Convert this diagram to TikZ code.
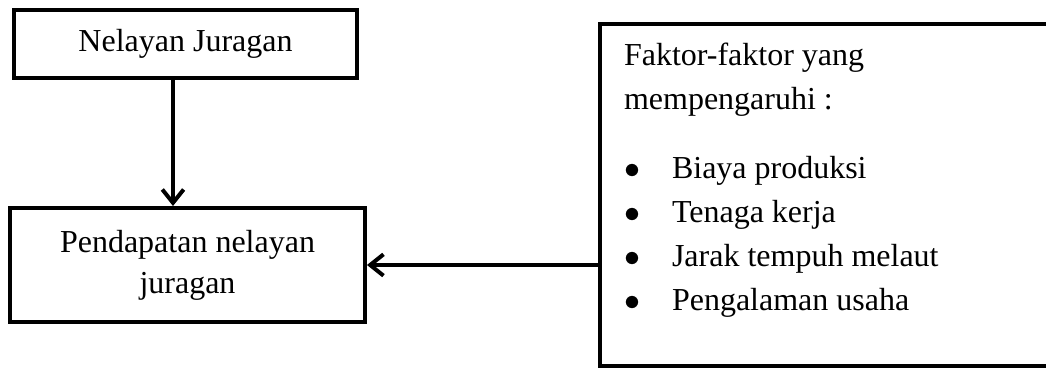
\documentclass[tikz,border=0pt]{standalone}
\usepackage{fontspec}
\setmainfont{Liberation Serif}
\usetikzlibrary{arrows.meta}

\begin{document}
\begin{tikzpicture}[
        x=0.375pt, y=-0.375pt,
        % Define styles
        kotak/.style={draw, line width=1.5pt, minimum width=128.6pt, minimum height=25.5pt, align=center, font=\fontsize{12}{15.4}\selectfont},
        daftar/.style={draw, line width=1.5pt, anchor=north west, inner xsep=9pt, inner ysep=7.3pt, font=\fontsize{12}{16.5}\selectfont},
        arrow/.style={-{Straight Barb[length=5pt, width=8pt]}, line width=1.5pt}
    ]

    % picture frame (the right box runs past the edge)
    \path[use as bounding box, clip] (0, 0) rectangle (1046, 367);

    % 1. Boxes on the left
    \node[kotak] (juragan) at (185.5, 44) {Nelayan Juragan};
    \node[kotak, minimum width=133.1pt, minimum height=42.75pt] (pendapatan) at (187.5, 265) {Pendapatan nelayan \\ juragan};

    % 2. Factor list on the right
    \node[daftar] (faktor) at (598, 21.6) {\parbox[c][113.8pt][t]{160pt}{\raggedright
        Faktor-faktor yang \\
        mempengaruhi : \\[9.4pt]
        \makebox[18pt][l]{$\bullet$}Biaya produksi \\
        \makebox[18pt][l]{$\bullet$}Tenaga kerja \\
        \makebox[18pt][l]{$\bullet$}Jarak tempuh melaut \\
        \makebox[18pt][l]{$\bullet$}Pengalaman usaha}};

    % 3. Arrows
    \draw[arrow] ([xshift=-4.7pt]juragan.south) -- ([xshift=-4.7pt]juragan.south |- pendapatan.north);
    \draw[arrow] (faktor.west |- pendapatan.east) -- (pendapatan.east);

\end{tikzpicture}
\end{document}
